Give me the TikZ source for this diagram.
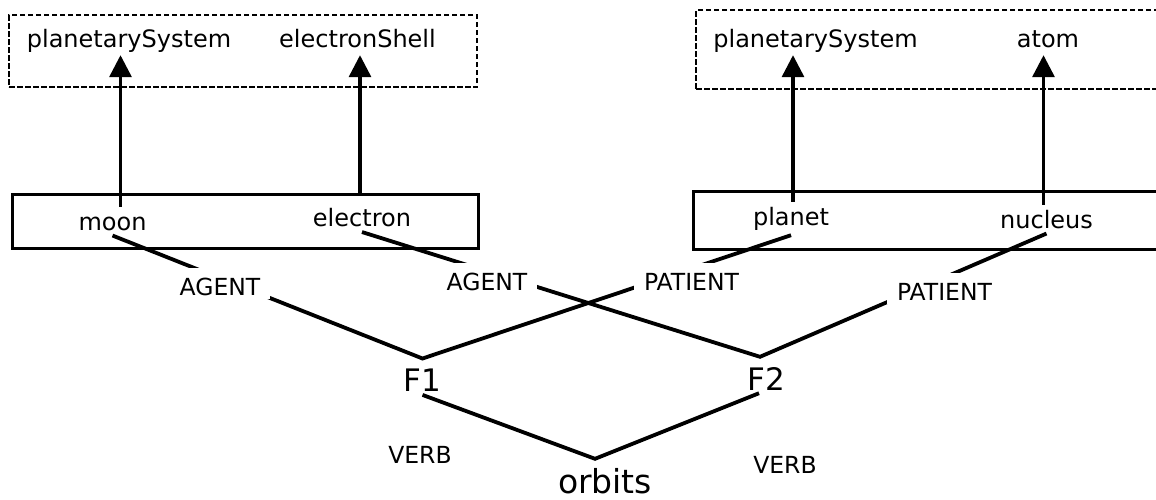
\documentclass[tikz,border=0pt]{standalone}
\usepackage{fontspec}
\setmainfont{DejaVu Sans}
\usetikzlibrary{arrows.meta}
\begin{document}
\begin{tikzpicture}[x=1pt,y=-1pt,
  word/.style={font=\fontsize{24}{28}\selectfont, inner sep=5pt, text height=18.2pt, anchor=base},
  topword/.style={font=\fontsize{24}{28}\selectfont, inner sep=2pt, text depth=6pt, anchor=base},
  lbl/.style={font=\fontsize{23.5}{27}\selectfont, inner xsep=10pt, inner ysep=4pt, text height=23pt, fill=white, anchor=base},
  fnode/.style={font=\fontsize{31}{36}\selectfont, inner sep=0pt, text height=33pt, text depth=3pt, anchor=base},
  verbword/.style={font=\fontsize{33}{38}\selectfont, inner sep=0pt, text height=34pt, anchor=base},
  link/.style={line width=3.8pt, line join=miter},
  arr/.style={line width=3.3pt, -{Triangle[width=22pt,length=22pt]}},
  frame/.style={draw, line width=2.6pt, inner sep=0pt, anchor=north west},
  group/.style={draw, dash pattern=on 5.5pt off 2.5pt, line width=2.2pt, inner sep=0pt, anchor=north west},
]
\useasboundingbox (0,0) rectangle (1156,499);

% group boxes
\node[group, minimum width=468pt, minimum height=72pt] (lgrp) at (8,14) {};
\node[group, minimum width=480pt, minimum height=79pt] (rgrp) at (695,9) {};
\node[frame, minimum width=466pt, minimum height=54pt] (lbox) at (11,193) {};
\node[frame, minimum width=480pt, minimum height=58pt] (rbox) at (692,190) {};

% top words
\node[topword] (ps1) at (129,47) {planetarySystem};
\node[topword] (es) at (357.5,47) {electronShell};
\node[topword] (ps2) at (815.5,47) {planetarySystem};
\node[topword] (atom) at (1048,47) {atom};

% bottom words
\node[word] (moon) at (112.5,230) {moon};
\node[word] (electron) at (362,226.5) {electron};
\node[word] (planet) at (791,225) {planet};
\node[word] (nucleus) at (1046.5,228) {nucleus};

% frames and verb
\node[fnode] (F1) at (422.5,391.7) {F1};
\node[fnode] (F2) at (766,390) {F2};
\node[verbword] (orbits) at (605,493) {orbits};

\coordinate (F2n) at ([xshift=-6pt]F2.north);
\coordinate (F2s) at ([xshift=-7pt]F2.south);
\coordinate (orbn) at ([xshift=-10pt]orbits.north);

% arrows
\coordinate (a1) at ([xshift=8pt]moon.north);
\coordinate (a2) at ([xshift=-2pt]electron.north);
\coordinate (a3) at ([xshift=2pt]planet.north);
\coordinate (a4) at ([xshift=-3pt]nucleus.north);
\draw[arr] (a1) -- (a1 |- ps1.south);
\draw[arr] (a2 |- lbox.north) -- (a2 |- es.south);
\draw[arr] (a3) -- (a3 |- ps2.south);
\draw[arr] (a4) -- (a4 |- ps2.south);

% role links
\draw[link] (moon.south) -- (F1.north) -- (planet.south);
\draw[link] (electron.south) -- (F2n) -- (nucleus.south);
\draw[link] (F1.south) -- (orbn) -- (F2s);

% role labels
\node[lbl] (ag1) at (220,295) {AGENT};
\node[lbl] (ag2) at (487,290) {AGENT};
\node[lbl] (pa1) at (691.5,290) {PATIENT};
\node[lbl] (pa2) at (944.5,300) {PATIENT};
\node[lbl] (vb1) at (420,463) {VERB};
\node[lbl] (vb2) at (785,473) {VERB};
\end{tikzpicture}
\end{document}
